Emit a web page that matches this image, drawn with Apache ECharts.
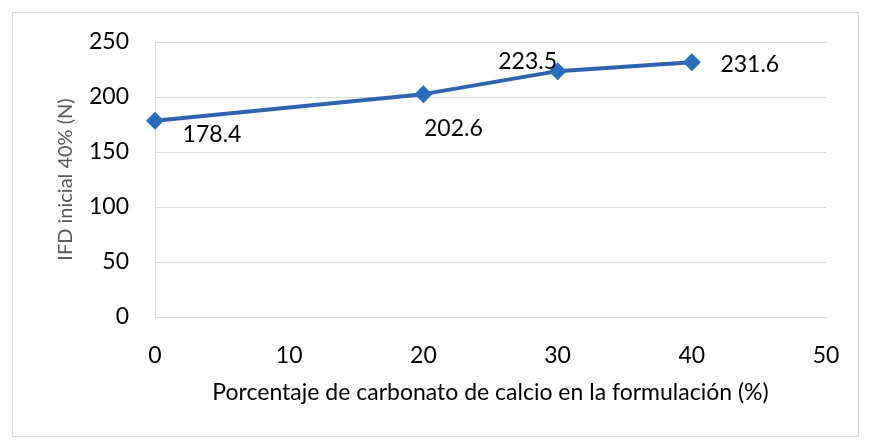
<!DOCTYPE html>
<html><head><meta charset="utf-8">
<script src="https://cdn.jsdelivr.net/npm/echarts@6/dist/echarts.min.js"></script>
<style>html,body{margin:0;padding:0;background:#fff}#c{width:869px;height:441px}</style>
</head><body><div id="c"></div>
<script>
var xValues = [0, 20, 30, 40];
var yValues = [178.4, 202.6, 223.5, 231.6];
var xTitle = 'Porcentaje de carbonato de calcio en la formulación (%)';
var yTitle = 'IFD inicial 40% (N)';
var labelOffsets = [[57, 14], [30, 34], [-30, -10], [58, 2]];

var chart = echarts.init(document.getElementById('c'));
var data = xValues.map(function (x, i) {
  return { value: [x, yValues[i]], label: { offset: labelOffsets[i] } };
});
chart.setOption({
  backgroundColor: '#fff',
  animation: false,
  graphic: [{ type: 'rect', shape: { x: 12.5, y: 12.5, width: 846, height: 424 }, style: { fill: 'none', stroke: '#d9d9d9', lineWidth: 1 } }],
  grid: { left: 155, right: 43, top: 42, bottom: 124 },
  xAxis: {
    type: 'value', min: 0, max: 50, interval: 10,
    axisLine: { show: false }, axisTick: { show: false }, splitLine: { show: false },
    axisLabel: { fontFamily: 'Lato', fontSize: 23, color: '#000', margin: 27 },
    name: xTitle, nameLocation: 'middle', nameGap: 64,
    nameTextStyle: { fontFamily: 'Lato', fontSize: 23, color: '#000' }
  },
  yAxis: {
    type: 'value', min: 0, max: 250, interval: 50,
    axisLine: { show: true, lineStyle: { color: '#d9d9d9' } }, axisTick: { show: false },
    splitLine: { lineStyle: { color: '#d9d9d9', width: 1 } },
    axisLabel: { fontFamily: 'Lato', fontSize: 23, color: '#000', margin: 26 },
    name: yTitle, nameLocation: 'middle', nameGap: 79, nameRotate: 90,
    nameTextStyle: { fontFamily: 'Lato', fontSize: 20, color: '#595959' }
  },
  series: [{
    type: 'line', data: data,
    lineStyle: { color: '#2d64ad', width: 4 },
    itemStyle: { color: '#2a6ebb' },
    symbol: 'diamond', symbolSize: 18,
    label: { show: true, position: 'inside', fontFamily: 'Lato', fontSize: 23, color: '#000',
      formatter: function (p) { return p.value[1].toFixed(1); } }
  }]
});
</script></body></html>
